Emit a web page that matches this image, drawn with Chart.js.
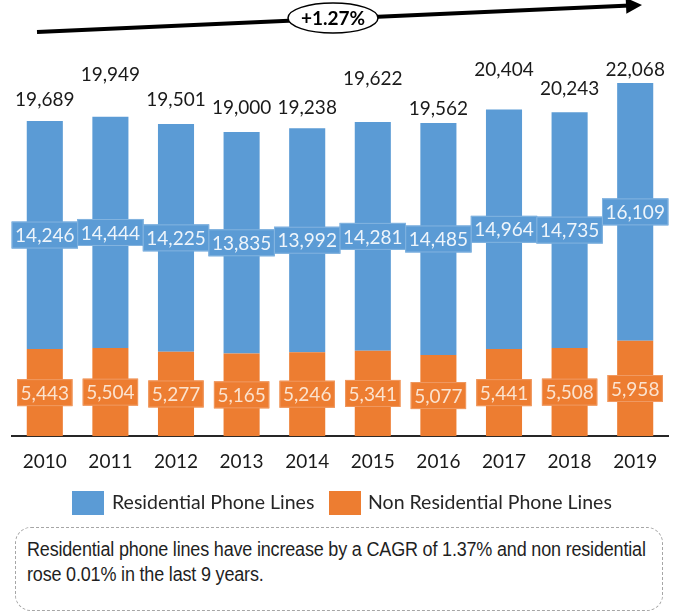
<!DOCTYPE html>
<html>
<head>
<meta charset="utf-8">
<title>Phone Lines 2010-2019</title>
<script src="https://cdn.jsdelivr.net/npm/chart.js@4.4.1/dist/chart.umd.min.js"></script>
<style>
  html, body { margin: 0; padding: 0; background: #fff; }
  body { position: relative; width: 675px; height: 615px; overflow: hidden; font-family: Lato, "Open Sans", sans-serif; color: #222; }
  #wrap { position: absolute; left: 0; top: 0; width: 675px; height: 494px; }
  .key { position: absolute; top: 491px; width: 32px; height: 24px; }
  .key-text { position: absolute; top: 489px; font-size: 19.5px; line-height: 26px; color: #262626; white-space: nowrap; }
  .note {
    position: absolute; left: 15px; top: 527px; width: 648px; height: 84px;
    border: 1px dashed #a6a6a6; border-radius: 16px; box-sizing: border-box;
    padding: 9px 0 0 11px;
  }
  .note span {
    display: block; white-space: nowrap; transform: scaleX(0.9); transform-origin: left center;
    font-family: "Liberation Sans", Arial, sans-serif;
    font-size: 20px; line-height: 25px; color: #1f1f1f; letter-spacing: -0.2px;
  }
</style>
</head>
<body>
<div id="wrap"><canvas id="lines"></canvas></div>

<div class="key" style="left:72px; background:#5b9bd5"></div>
<div class="key-text" style="left:112px">Residential Phone Lines</div>
<div class="key" style="left:329px; background:#ed7d31"></div>
<div class="key-text" style="left:368px">Non Residential Phone Lines</div>

<div class="note">
  <span>Residential phone lines have increase by a CAGR of 1.37% and non residential</span>
  <span>rose 0.01% in the last 9 years.</span>
</div>

<script>
"use strict";

// phone lines per year
const years = ['2010', '2011', '2012', '2013', '2014', '2015', '2016', '2017', '2018', '2019'];
const residential = [14246, 14444, 14225, 13835, 13992, 14281, 14485, 14964, 14735, 16109];
const nonResidential = [5443, 5504, 5277, 5165, 5246, 5341, 5077, 5441, 5508, 5958];
const totals = [19689, 19949, 19501, 19000, 19238, 19622, 19562, 20404, 20243, 22068];
const growth = '+1.27%';

const fmt = (n) => n.toLocaleString('en-US');

// boxed value labels in the middle of each segment, totals over the stack
const barLabels = {
  id: 'barLabels',
  afterDatasetsDraw(chart, args, opts) {
    const ctx = chart.ctx;
    ctx.save();
    ctx.font = '19px Lato';
    ctx.textAlign = 'center';
    ctx.textBaseline = 'middle';

    chart.data.datasets.forEach((ds, i) => {
      const meta = chart.getDatasetMeta(i);
      meta.data.forEach((bar, j) => {
        const text = fmt(ds.data[j]);
        const cy = (bar.y + bar.base) / 2;
        const w = ctx.measureText(text).width + 7;
        const h = 27;
        ctx.fillStyle = ds.backgroundColor;
        ctx.fillRect(bar.x - w / 2, cy - h / 2, w, h);
        ctx.strokeStyle = ds.edgeColor;
        ctx.lineWidth = 1;
        ctx.strokeRect(bar.x - w / 2 + 0.5, cy - h / 2 + 0.5, w - 1, h - 1);
        ctx.fillStyle = ds.textColor;
        ctx.fillText(text, bar.x, cy + 1);
      });
    });

    // totals sit on top of the last (upper) dataset
    const top = chart.getDatasetMeta(chart.data.datasets.length - 1);
    ctx.fillStyle = '#1a1a1a';
    top.data.forEach((bar, j) => {
      const lift = opts.lift[j] || 0;
      ctx.fillText(fmt(opts.values[j]), bar.x, bar.y - 20 - lift);
    });
    ctx.restore();
  }
};

// growth arrow across the top
const growthArrow = {
  id: 'growthArrow',
  afterDraw(chart, args, opts) {
    const ctx = chart.ctx;
    const x0 = 37, y0 = 32, x1 = 642, y1 = 5;
    ctx.save();
    ctx.strokeStyle = '#000';
    ctx.lineWidth = 4;
    ctx.beginPath();
    ctx.moveTo(x0, y0);
    ctx.lineTo(x1 - 12, y1 + 0.6);
    ctx.stroke();

    // head
    const ang = Math.atan2(y1 - y0, x1 - x0);
    ctx.fillStyle = '#000';
    ctx.beginPath();
    ctx.moveTo(x1, y1);
    ctx.lineTo(x1 - 16 * Math.cos(ang) + 8 * Math.sin(ang), y1 - 16 * Math.sin(ang) - 8 * Math.cos(ang));
    ctx.lineTo(x1 - 16 * Math.cos(ang) - 8 * Math.sin(ang), y1 - 16 * Math.sin(ang) + 8 * Math.cos(ang));
    ctx.closePath();
    ctx.fill();

    // bubble
    ctx.fillStyle = '#fff';
    ctx.lineWidth = 1.5;
    ctx.beginPath();
    ctx.ellipse(333, 18, 45, 15, 0, 0, Math.PI * 2);
    ctx.fill();
    ctx.stroke();
    ctx.fillStyle = '#000';
    ctx.font = 'bold 19px Lato';
    ctx.textAlign = 'center';
    ctx.textBaseline = 'middle';
    ctx.fillText(opts.text, 333, 19);
    ctx.restore();
  }
};

const config = {
  type: 'bar',
  data: {
    labels: years,
    datasets: [
      {
        label: 'Non Residential Phone Lines',
        data: nonResidential,
        backgroundColor: '#ed7d31',
        edgeColor: '#f09a62',
        textColor: '#fbe3cf'
      },
      {
        label: 'Residential Phone Lines',
        data: residential,
        backgroundColor: '#5b9bd5',
        edgeColor: '#83b4e0',
        textColor: '#eef5fb'
      }
    ]
  },
  options: {
    responsive: true,
    maintainAspectRatio: false,
    animation: false,
    layout: { padding: { left: 12, right: 7, top: 52, bottom: 7 } },
    datasets: {
      bar: { categoryPercentage: 1, barPercentage: 0.55 }
    },
    scales: {
      x: {
        stacked: true,
        grid: { display: false, drawTicks: false },
        border: { display: true, color: '#262626', width: 2 },
        ticks: { color: '#1a1a1a', padding: 14, font: { family: 'Lato', size: 19 } }
      },
      y: {
        stacked: true,
        display: false,
        min: 0,
        max: 24000
      }
    },
    plugins: {
      legend: { display: false },
      tooltip: { enabled: false },
      barLabels: { values: totals, lift: [1, 22, 4, 4, 0, 23, -6, 20, 3, -7] },
      growthArrow: { text: growth }
    }
  },
  plugins: [barLabels, growthArrow]
};

const phoneLines = new Chart(document.getElementById('lines'), config);
</script>
</body>
</html>
